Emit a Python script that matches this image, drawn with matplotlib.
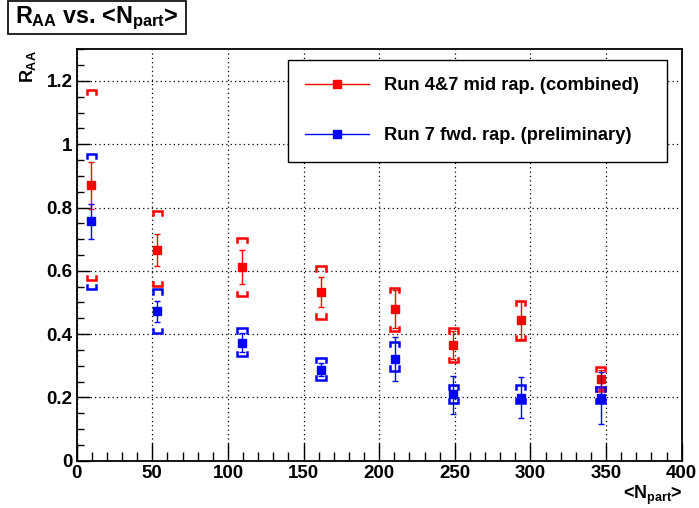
import numpy as np
import matplotlib
matplotlib.use("Agg")
import matplotlib.pyplot as plt
from matplotlib.patches import Rectangle
from matplotlib.ticker import MultipleLocator, FixedLocator

plt.rcParams['font.family'] = ['Liberation Sans', 'DejaVu Sans']
plt.rcParams['font.weight'] = 'bold'
plt.rcParams['mathtext.fontset'] = 'custom'
plt.rcParams['mathtext.rm'] = 'Liberation Sans:bold'
plt.rcParams['mathtext.it'] = 'Liberation Sans:bold'
plt.rcParams['mathtext.bf'] = 'Liberation Sans:bold'

# N_part values (shared by both series)
npart = [9.5, 53.3, 109.3, 161.5, 210.4, 249.0, 293.7, 346.6]

# Run 4&7 mid rapidity (combined)
mid_raa = [0.870, 0.665, 0.612, 0.533, 0.478, 0.365, 0.444, 0.257]
mid_stat = [0.075, 0.050, 0.053, 0.048, 0.060, 0.045, 0.060, 0.030]
mid_sys_hi = [1.172, 0.788, 0.703, 0.614, 0.547, 0.418, 0.506, 0.297]
mid_sys_lo = [0.571, 0.551, 0.519, 0.449, 0.409, 0.313, 0.380, 0.220]

# Run 7 forward rapidity (preliminary)
fwd_raa = [0.756, 0.473, 0.373, 0.288, 0.322, 0.210, 0.198, 0.199]
fwd_stat_up = [0.054, 0.031, 0.030, 0.020, 0.069, 0.057, 0.066, 0.082]
fwd_stat_dn = [0.056, 0.035, 0.030, 0.020, 0.070, 0.063, 0.063, 0.083]
fwd_sys_hi = [0.968, 0.541, 0.418, 0.324, 0.375, 0.239, 0.238, 0.234]
fwd_sys_lo = [0.541, 0.404, 0.330, 0.254, 0.285, 0.183, 0.182, 0.181]

W, H = 699, 508
fig = plt.figure(figsize=(W / 100, H / 100), dpi=100)
ax = fig.add_axes([76.7 / W, 1 - 460.7 / H, (681.7 - 76.7) / W, (460.7 - 49.3) / H])

ax.set_xlim(0, 400)
ax.set_ylim(0, 1.3)


def brackets(x, lo, hi, color):
    dx, t = 3.0, 0.013
    for xi, l, h in zip(x, lo, hi):
        ax.plot([xi - dx, xi - dx, xi + dx, xi + dx], [h - t, h, h, h - t],
                color=color, lw=1.8, solid_joinstyle='miter', zorder=3)
        ax.plot([xi - dx, xi - dx, xi + dx, xi + dx], [l + t, l, l, l + t],
                color=color, lw=1.8, solid_joinstyle='miter', zorder=3)


red, blue = '#ff0000', '#0000ff'

brackets(npart, mid_sys_lo, mid_sys_hi, red)
ax.errorbar(npart, mid_raa, yerr=mid_stat, fmt='none', ecolor=red,
            elinewidth=1, capsize=2.5, capthick=1, zorder=4)
ax.plot(npart, mid_raa, ls='none', marker='s', ms=5.5, color=red, zorder=5)

brackets(npart, fwd_sys_lo, fwd_sys_hi, blue)
ax.errorbar(npart, fwd_raa, yerr=[fwd_stat_dn, fwd_stat_up], fmt='none',
            ecolor=blue, elinewidth=1, capsize=2.5, capthick=1, zorder=6)
ax.plot(npart, fwd_raa, ls='none', marker='s', ms=5.5, color=blue, zorder=7)

# legend handles
ax.plot([], [], color=red, lw=1, marker='s', ms=5.5,
        label='Run 4&7 mid rap. (combined)')
ax.plot([], [], color=blue, lw=1, marker='s', ms=5.5,
        label='Run 7 fwd. rap. (preliminary)')
leg = ax.legend(loc='upper left', bbox_to_anchor=(0.349, 0.726, 0.627, 0.248),
                mode='expand', borderaxespad=0, fancybox=False, framealpha=1,
                edgecolor='black', fontsize=13.2, handlelength=3.5,
                handletextpad=0.8, labelspacing=1.8, borderpad=0.95,
                numpoints=1)
leg.get_frame().set_linewidth(1.0)
leg.set_zorder(10)

# axes styling
ax.xaxis.set_major_locator(MultipleLocator(50))
ax.xaxis.set_minor_locator(MultipleLocator(10))
ax.yaxis.set_major_locator(FixedLocator([0, 0.2, 0.4, 0.6, 0.8, 1.0, 1.2]))
ax.yaxis.set_minor_locator(MultipleLocator(0.05))
ax.set_yticklabels(['0', '0.2', '0.4', '0.6', '0.8', '1', '1.2'])
ax.tick_params(axis='both', which='both', direction='in', top=False, right=False,
               labelsize=13.5, width=1)
ax.tick_params(axis='x', which='major', length=13, pad=3)
ax.tick_params(axis='x', which='minor', length=6.5)
ax.tick_params(axis='y', which='major', length=9, pad=3)
ax.tick_params(axis='y', which='minor', length=5)
for lab in ax.get_xticklabels() + ax.get_yticklabels():
    lab.set_fontweight('bold')
for s in ax.spines.values():
    s.set_linewidth(1.3)
ax.grid(True, which='major', color='black', ls=(0, (1, 2.5)), lw=0.9)
ax.set_axisbelow(True)

# axis titles
fig.text(683 / W, 1 - 495 / H, r'<$N_{part}$>', ha='right', va='center',
         fontsize=13)
fig.text(28 / W, 1 - 50 / H, r'$R_{AA}$', ha='center', va='top', rotation=90,
         fontsize=13)

# title box
fig.patches.append(Rectangle((8 / W, 1 - 34 / H), 178 / W, 33 / H,
                             transform=fig.transFigure, fc='white', ec='black',
                             lw=1.2))
fig.text(97 / W, 1 - 18 / H, r'$R_{AA}$ vs. <$N_{part}$>', ha='center',
         va='center', fontsize=16.8)

fig.savefig('out.png', dpi=100)
